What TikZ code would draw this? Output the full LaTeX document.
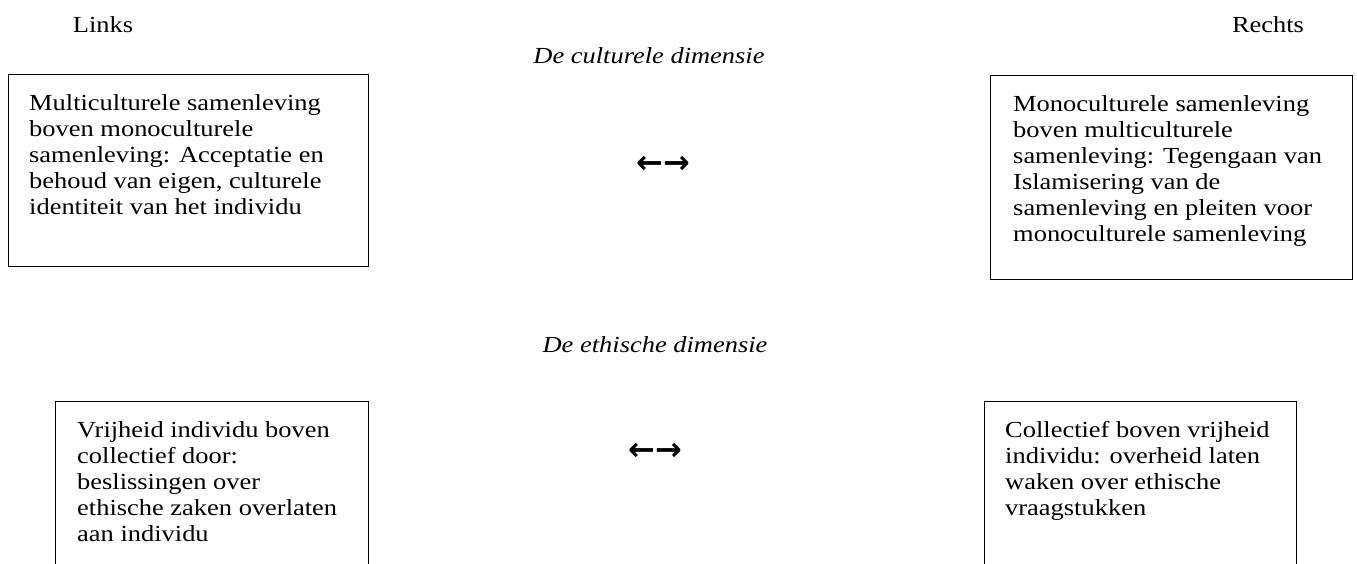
\documentclass[tikz,border=0pt]{standalone}
\usepackage{fontspec}
\setmainfont{Liberation Serif}[FakeStretch=1.15]
\newfontfamily\pijlfont{DejaVu Sans}
\usetikzlibrary{positioning}

\def\fs{\fontsize{23}{26}\selectfont}
\def\padx{21pt}
\def\pady{20pt}
\tikzstyle{kader}=[draw,line width=1.4pt,inner sep=0pt,anchor=north west]
\tikzstyle{txt}=[inner sep=0pt,align=left,font=\fs]
\tikzstyle{kop}=[inner sep=0pt,anchor=base,font=\fs]
\tikzstyle{dim}=[inner sep=0pt,anchor=base,font=\fs\itshape]
\tikzstyle{pijl}=[inner sep=0pt,font=\pijlfont\bfseries\fontsize{32}{32}\selectfont]

\begin{document}
\begin{tikzpicture}[x=1pt,y=-1pt]
			\clip (0,0) rectangle (1357,564);
			% koppen
			\node[kop](links) at (103,33){Links};
			\node[kop](rechts) at (1268,33){Rechts};
			% de culturele dimensie
			\node[dim](cult) at (649,64){De culturele dimensie};
			\node[kader,minimum width=360pt,minimum height=192pt](cultL) at (8,74){};
			\node[txt,below right=\pady and \padx of cultL.north west](cultLt){Multiculturele samenleving\\boven monoculturele\\samenleving: Acceptatie en\\behoud van eigen, culturele\\identiteit van het individu};
			\node[kader,minimum width=362pt,minimum height=204pt](cultR) at (990,75){};
			\node[txt,below right=\pady and 23pt of cultR.north west](cultRt){Monoculturele samenleving\\boven multiculturele\\samenleving: Tegengaan van\\Islamisering van de\\samenleving en pleiten voor\\monoculturele samenleving};
			\node[pijl](cultP) at (663,165){←→};
			% de ethische dimensie
			\node[dim](eth) at (655,352){De ethische dimensie};
			\node[kader,minimum width=313pt,minimum height=200pt](ethL) at (55,401){};
			\node[txt,below right=\pady and 22pt of ethL.north west](ethLt){Vrijheid individu boven\\collectief door:\\beslissingen over\\ethische zaken overlaten\\aan individu};
			\node[kader,minimum width=312pt,minimum height=200pt](ethR) at (984,401){};
			\node[txt,below right=\pady and \padx of ethR.north west](ethRt){Collectief boven vrijheid\\individu: overheid laten\\waken over ethische\\vraagstukken};
			\node[pijl](ethP) at (655,452){←→};
		\end{tikzpicture}
\end{document}
